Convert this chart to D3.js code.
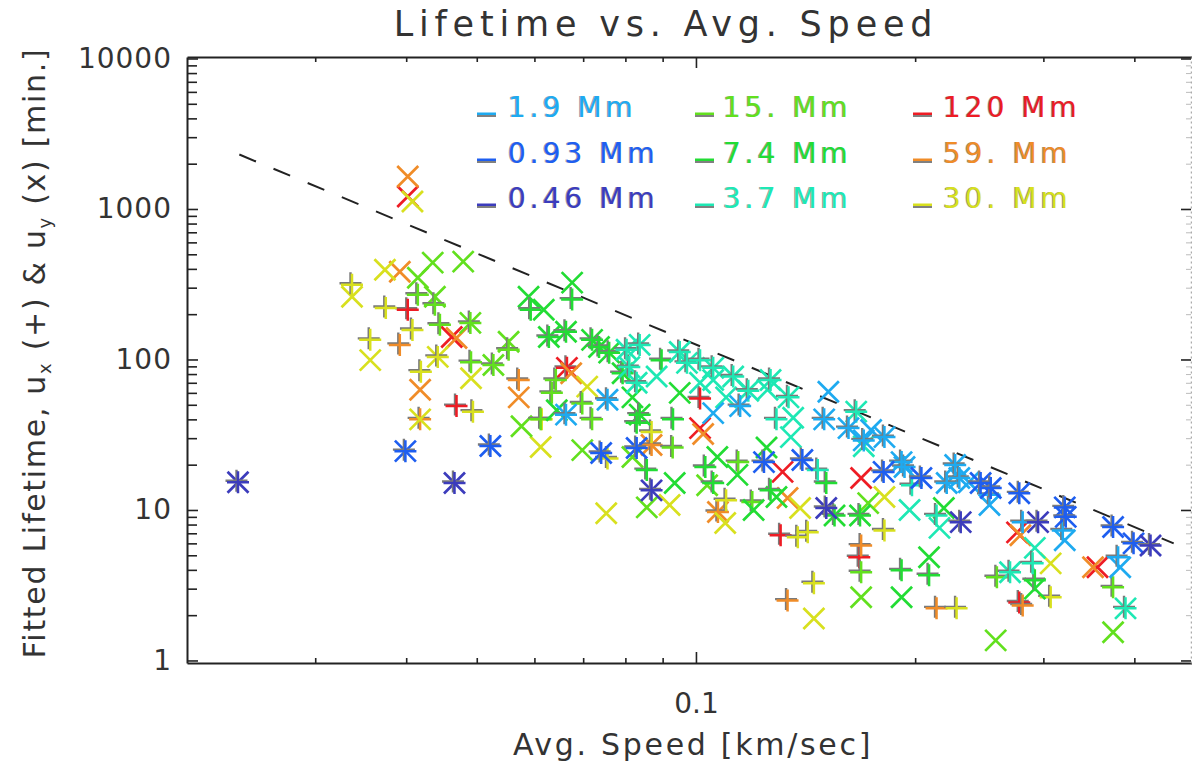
<!DOCTYPE html>
<html>
<head>
<meta charset="utf-8">
<script src="https://cdn.jsdelivr.net/npm/d3@7"></script>
<style>
body { margin: 0; background: #fff; }
svg { display: block; font-family: "DejaVu Sans", sans-serif; }
</style>
</head>
<body>
<svg width="1192" height="765"></svg>
<script>
// scales (Mm), smallest first
var scaleNames = ["0.46 Mm", "0.93 Mm", "1.9 Mm", "3.7 Mm", "7.4 Mm", "15. Mm", "30. Mm", "59. Mm", "120 Mm"];
var scaleColors = ["#3c3cbc", "#1e5ef0", "#1eaaf0", "#1ee8b4", "#22dc34", "#62e01e", "#d8e01e", "#f08c28", "#ee1c24"];

// [avg speed km/s, fitted lifetime min]  ux -> "+", uy -> "x"
var ux_046 = [[0.0235,15.3],[0.0466,15.1],[0.0869,13.5],[0.151,10.3],[0.231,8.3],[0.295,8.3],[0.421,5.8]];
var uy_046 = [[0.0235,15.3],[0.0466,15.1],[0.0869,13.5],[0.151,10.3],[0.231,8.3],[0.295,8.3],[0.421,5.8]];

var ux_093 = [[0.0399,24.6],[0.0522,26.6],[0.0741,23.9],[0.0829,25.8],[0.124,20.8],[0.140,21.5],[0.181,17.9],[0.204,16.3],
              [0.246,15.1],[0.254,14.0],[0.278,12.9],[0.321,10.4],[0.322,9.0],[0.374,7.7],[0.399,6.0]];
var uy_093 = [[0.0399,24.6],[0.0522,26.6],[0.0741,23.9],[0.0829,25.8],[0.124,20.8],[0.140,21.5],[0.181,17.9],[0.204,16.3],
              [0.246,15.1],[0.254,14.0],[0.278,12.9],[0.321,10.4],[0.322,9.0],[0.374,7.7],[0.399,6.0]];

var ux_19 = [[0.0663,43],[0.0756,54],[0.115,49],[0.150,40],[0.162,35],[0.170,29],[0.1815,30.5],[0.1916,20.8],[0.1934,19.3],
             [0.227,19.9],[0.230,16.3],[0.221,15.1],[0.253,12.6],[0.281,8.3],[0.319,7.3],[0.380,4.85]];
var uy_19 = [[0.0663,43],[0.0756,54],[0.1056,44],[0.115,49],[0.150,40],[0.162,35],[0.170,29],[0.1815,30.5],[0.1916,20.8],
             [0.1934,19.3],[0.227,19.9],[0.230,16.3],[0.221,15.1],[0.237,15.3],[0.253,10.8],[0.321,6.3],[0.3825,4.16],
             [0.174,34],[0.152,61]];

var ux_37 = [[0.0803,116],[0.0837,125],[0.081,89],[0.0829,70],[0.095,112],[0.0972,95],[0.1056,88],[0.1125,77],[0.1266,73],
             [0.134,56],[0.166,45],[0.270,3.86],[0.389,2.22],[0.129,40],[0.147,18.4],[0.198,14.6],[0.214,9.2],[0.290,4.42],
             [0.1013,99],[0.118,62]];
var uy_37 = [[0.0803,116],[0.0837,125],[0.081,89],[0.0829,70],[0.095,112],[0.0972,95],[0.1056,88],[0.1125,77],[0.1266,73],
             [0.134,56],[0.166,45],[0.270,3.86],[0.389,2.22],[0.1056,73],[0.110,56],[0.1254,63],[0.135,30.5],[0.136,41],
             [0.1013,70],[0.1965,10],[0.216,7.6],[0.292,5.6],[0.0883,77],[0.170,26.5],[0.118,62]];

var ux_74 = [[0.0593,214],[0.0676,250],[0.0628,141],[0.0663,153],[0.072,135],[0.0736,121],[0.076,111],[0.0793,81],[0.0897,99],
             [0.0829,38],[0.0837,43],[0.0856,18.4],[0.093,40],[0.103,19.3],[0.1056,15.1],[0.1266,13.5],[0.151,15.1],[0.155,9.2],
             [0.168,9.2],[0.1916,3.97],[0.209,3.68],[0.292,3.41]];
var uy_74 = [[0.0589,261],[0.0676,324],[0.0618,214],[0.0628,141],[0.0663,153],[0.072,135],[0.0736,121],[0.076,111],[0.0793,81],
             [0.0818,56],[0.095,60],[0.0644,46],[0.0837,43],[0.0935,15.1],[0.107,22.5],[0.114,17.1],[0.129,12.2],[0.12,10],
             [0.155,9.2],[0.168,9.2],[0.209,4.85],[0.1916,2.63],[0.292,3.0],[0.219,10.3],[0.125,26]];

var ux_15 = [[0.0415,269],[0.0438,231],[0.0445,170],[0.049,175],[0.0491,96],[0.0527,92],[0.0642,73],[0.0634,60],[0.0698,51],
             [0.072,40],[0.0929,26],[0.1143,20.8],[0.1195,11.3],[0.0612,40],[0.1686,3.86],[0.259,3.57],[0.374,3.06],[0.0553,116]];
var uy_15 = [[0.0415,349],[0.0435,440],[0.0479,447],[0.0438,261],[0.049,175],[0.0553,131],[0.0527,92],[0.0698,25],[0.0818,22.5],
             [0.0856,10.4],[0.1036,14.6],[0.0576,36],[0.1686,2.63],[0.1724,11.1],[0.258,1.36],[0.374,1.54]];

var ux_30 = [[0.0337,314],[0.0375,220],[0.0408,157],[0.0357,135],[0.0442,104],[0.0419,83],[0.0494,45],[0.0614,40],[0.0756,22],
             [0.0869,33],[0.110,11.6],[0.138,6.6],[0.1424,7.1],[0.1452,3.26],[0.1815,7.3],[0.228,2.22],[0.307,2.63]];
var uy_30 = [[0.0408,1120],[0.0337,261],[0.0374,395],[0.0357,99],[0.0442,104],[0.0491,75],[0.0418,40],[0.0612,26.2],[0.0709,66],
             [0.0753,9.5],[0.092,10.8],[0.1097,8.2],[0.139,10.3],[0.1452,1.9],[0.1815,12.2],[0.307,4.42]];

var ux_59 = [[0.0392,125],[0.0571,73],[0.0418,40],[0.0869,27],[0.1072,9.7],[0.1336,2.5],[0.1686,5.8],[0.214,2.22],[0.281,2.32]];
var uy_59 = [[0.0402,1644],[0.0392,383],[0.0469,139],[0.0418,63],[0.0571,56],[0.0674,81],[0.0869,27],[0.1023,32],[0.1072,9.7],
             [0.1336,12],[0.279,6.8],[0.351,4.16]];

var ux_120 = [[0.0402,214],[0.0469,49],[0.0665,88],[0.1013,55],[0.1307,6.8],[0.1676,4.85],[0.278,2.43]];
var uy_120 = [[0.0402,1210],[0.0462,141],[0.0665,88],[0.1013,35],[0.1315,17.9],[0.1686,16.3],[0.276,7.1],[0.356,4.16]];

var uxAll = [ux_046, ux_093, ux_19, ux_37, ux_74, ux_15, ux_30, ux_59, ux_120];
var uyAll = [uy_046, uy_093, uy_19, uy_37, uy_74, uy_15, uy_30, uy_59, uy_120];

// dashed reference line, end points
var lineSpeed = [0.0236, 0.453];
var lineLife = [2300, 6.0];

var xMajor = [0.1];
var xMinor = [0.03, 0.04, 0.05, 0.06, 0.07, 0.08, 0.09, 0.2, 0.3, 0.4];
var yMajor = [1, 10, 100, 1000, 10000];
var yMinor = [];
[1, 10, 100, 1000].forEach(function(d) {
  for (var k = 2; k <= 9; k++) yMinor.push(d * k);
});

// legend layout: columns of scale indices
var legendCols = [[2, 1, 0], [5, 4, 3], [8, 7, 6]];

var svg = d3.select("svg");
var ink = "#222";
var txt = "#333";

var x = d3.scaleLog().domain([0.02, 0.48]).range([187, 1192]);
var y = d3.scaleLog().domain([0.962, 10230]).range([663, 57]);

// ---- axes ----
function styleAxis(g, w) {
  g.select(".domain").attr("stroke", ink).attr("stroke-width", w);
  g.selectAll(".tick line").attr("stroke", ink).attr("stroke-width", 1.6);
  g.selectAll("text").attr("fill", txt).style("font-family", "DejaVu Sans");
}

svg.append("g").attr("transform", "translate(0,663)")
  .call(d3.axisBottom(x).tickValues(xMinor).tickSizeInner(-5).tickSizeOuter(0).tickFormat(""))
  .call(styleAxis, 2);
var xm = svg.append("g").attr("transform", "translate(0,663)")
  .call(d3.axisBottom(x).tickValues(xMajor).tickSizeInner(-11).tickSizeOuter(0).tickPadding(30).tickFormat(d3.format(".1f")))
  .call(styleAxis, 2);
xm.select(".domain").remove();
xm.selectAll("text").style("font-size", "28px").attr("dy", "0.71em");

svg.append("g").attr("transform", "translate(0,57)")
  .call(d3.axisTop(x).tickValues(xMinor).tickSizeInner(-5).tickSizeOuter(0).tickFormat(""))
  .call(styleAxis, 2);
svg.append("g").attr("transform", "translate(0,57)")
  .call(d3.axisTop(x).tickValues(xMajor).tickSizeInner(-11).tickSizeOuter(0).tickFormat(""))
  .call(styleAxis, 2).select(".domain").remove();

svg.append("g").attr("transform", "translate(187,0)")
  .call(d3.axisLeft(y).tickValues(yMinor).tickSizeInner(-10).tickSizeOuter(0).tickFormat(""))
  .call(styleAxis, 2);
var ym = svg.append("g").attr("transform", "translate(187,0)")
  .call(d3.axisLeft(y).tickValues(yMajor).tickSizeInner(-11).tickSizeOuter(0).tickPadding(15).tickFormat(d3.format("d")))
  .call(styleAxis, 2);
ym.select(".domain").remove();
ym.selectAll("text").style("font-size", "28px").style("letter-spacing", "1px");

// right axis, faint
var rg = svg.append("g").attr("transform", "translate(1191,0)")
  .call(d3.axisRight(y).tickValues(yMajor).tickSizeInner(-10).tickSizeOuter(0).tickFormat(""));
rg.select(".domain").attr("stroke", "#aaa").attr("stroke-width", 1.5).attr("stroke-dasharray", "2,3");
rg.selectAll(".tick line").attr("stroke", ink).attr("stroke-width", 1.6);
svg.append("g").attr("transform", "translate(1191,0)")
  .call(d3.axisRight(y).tickValues(yMinor).tickSizeInner(-5).tickSizeOuter(0).tickFormat(""))
  .call(function(g) {
    g.select(".domain").remove();
    g.selectAll(".tick line").attr("stroke", "#bbb").attr("stroke-width", 1);
  });

// ---- dashed line ----
var line = d3.line().x(function(d) { return x(d[0]); }).y(function(d) { return y(d[1]); });
svg.append("path")
  .attr("d", line(d3.zip(lineSpeed, lineLife)))
  .attr("fill", "none")
  .attr("stroke", ink)
  .attr("stroke-width", 2)
  .attr("stroke-dasharray", "18,19");

// ---- markers ----
var plusPath = "M-11,0H11M0,-11V11";
var timesPath = "M-10.5,-10.5L10.5,10.5M-10.5,10.5L10.5,-10.5";

var marks = svg.append("g").attr("fill", "none").attr("stroke-linecap", "butt");
for (var s = scaleNames.length - 1; s >= 0; s--) {
  var col = scaleColors[s];
  marks.selectAll(null).data(uyAll[s]).enter().append("path")
    .attr("transform", function(d) { return "translate(" + x(d[0]) + "," + y(d[1]) + ")"; })
    .attr("d", timesPath)
    .attr("stroke", col)
    .attr("stroke-width", 2.7);
  marks.selectAll(null).data(uxAll[s]).enter().append("path")
    .attr("transform", function(d) { return "translate(" + (x(d[0]) - 1.5) + "," + (y(d[1]) - 1.5) + ")"; })
    .attr("d", plusPath)
    .attr("stroke", "#7a7a7a")
    .attr("stroke-width", 2.4);
  marks.selectAll(null).data(uxAll[s]).enter().append("path")
    .attr("transform", function(d) { return "translate(" + x(d[0]) + "," + y(d[1]) + ")"; })
    .attr("d", plusPath)
    .attr("stroke", col)
    .attr("stroke-width", 2.5);
}

// ---- legend ----
var colDash = [477, 695, 913];
var colText = [508, 723, 943];
var rowBase = [117, 163, 208];
legendCols.forEach(function(list, ci) {
  list.forEach(function(si, ri) {
    var lg = svg.append("g");
    lg.append("rect").attr("x", colDash[ci]).attr("y", rowBase[ri] - 2).attr("width", 19).attr("height", 2)
      .attr("fill", "#808080");
    lg.append("rect").attr("x", colDash[ci]).attr("y", rowBase[ri] - 4.5).attr("width", 19).attr("height", 2.5)
      .attr("fill", scaleColors[si]);
    lg.append("text").attr("x", colText[ci] - 1).attr("y", rowBase[ri])
      .style("font-size", "28px").style("letter-spacing", "4px")
      .attr("fill", "#999").text(scaleNames[si]);
    lg.append("text").attr("x", colText[ci]).attr("y", rowBase[ri])
      .style("font-size", "28px").style("letter-spacing", "4px")
      .attr("fill", scaleColors[si]).text(scaleNames[si]);
  });
});

// ---- titles ----
svg.append("text")
  .attr("x", 666).attr("y", 36)
  .attr("text-anchor", "middle")
  .style("font-size", "35px").style("letter-spacing", "5.8px")
  .attr("fill", txt)
  .text("Lifetime vs. Avg. Speed");

svg.append("text")
  .attr("x", 693).attr("y", 755)
  .attr("text-anchor", "middle")
  .style("font-size", "30px").style("letter-spacing", "2.7px")
  .attr("fill", txt)
  .text("Avg. Speed [km/sec]");

var yl = svg.append("text")
  .attr("transform", "translate(45,353) rotate(-90)")
  .attr("text-anchor", "middle")
  .style("font-size", "30px").style("letter-spacing", "1.7px")
  .attr("fill", txt);
yl.append("tspan").text("Fitted Lifetime, u");
yl.append("tspan").attr("dy", 6).style("font-size", "18px").text("x");
yl.append("tspan").attr("dy", -6).text(" (+) & u");
yl.append("tspan").attr("dy", 6).style("font-size", "18px").text("y");
yl.append("tspan").attr("dy", -6).text(" (x) [min.]");
</script>
</body>
</html>
